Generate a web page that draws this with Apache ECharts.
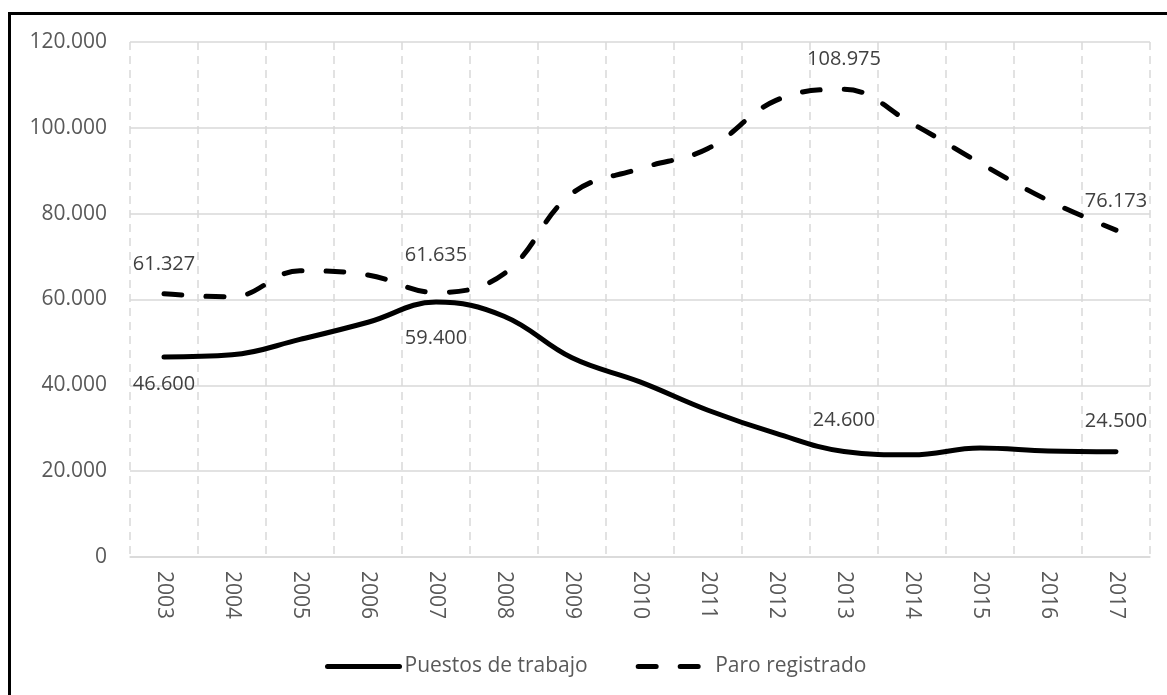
<!DOCTYPE html>
<html>
<head>
<meta charset="utf-8">
<script src="https://cdn.jsdelivr.net/npm/echarts@6/dist/echarts.min.js"></script>
<style>
html,body{margin:0;padding:0;background:#fff;overflow:hidden;}
#frame{position:absolute;left:8px;top:12px;width:2000px;height:2000px;border:3px solid #000;box-sizing:border-box;pointer-events:none;z-index:2;}
#chart{position:absolute;left:0;top:0;width:1167px;height:695px;z-index:1;}
</style>
</head>
<body>
<div id="frame"></div>
<div id="chart"></div>
<script>
const years = ['2003','2004','2005','2006','2007','2008','2009','2010','2011','2012','2013','2014','2015','2016','2017'];
const puestos = [46600, 47100, 50700, 54700, 59400, 56100, 46400, 40800, 34200, 28800, 24600, 23800, 25400, 24700, 24500];
const paro = [61327, 60600, 66700, 65700, 61635, 66000, 84700, 90500, 95200, 106400, 108975, 101000, 91800, 83100, 76173];
const yTicks = [0, 20000, 40000, 60000, 80000, 100000, 120000];

const FONT = '"Open Sans", "Noto Sans", sans-serif';
function fmt(v){ return String(v).replace(/\B(?=(\d{3})+(?!\d))/g, '.'); }

// label placement config (which points are labelled, and where)
const puestosLabels = {0:['bottom',16], 4:['bottom',25], 10:['top',20], 14:['top',20]};
const paroLabels = {0:['top',19], 4:['top',26], 10:['top',19], 14:['top',18]};

function build(values, cfg){
  return values.map((v,i)=>{
    const c = cfg[i];
    if(!c) return v;
    return {value:v, label:{show:true, position:c[0], distance:c[1], formatter:(p)=>fmt(p.value),
      color:'#404040', fontSize:20, fontFamily:FONT}};
  });
}

const chart = echarts.init(document.getElementById('chart'), null, {renderer:'canvas'});
chart.setOption({
  animation:false,
  backgroundColor:'#fff',
  grid:{left:130, right:17, top:42, bottom:138, containLabel:false},
  legend:{
    data:['Puestos de trabajo','Paro registrado'],
    left:320, top:651,
    itemWidth:72, itemHeight:14, itemGap:48,
    lineStyle:{width:5, cap:'round'},
    textStyle:{color:'#595959', fontSize:21, fontFamily:FONT}
  },
  xAxis:{
    type:'category', data:years, boundaryGap:true,
    axisLine:{show:true, lineStyle:{color:'#d9d9d9', width:1.5}},
    axisTick:{show:false},
    axisLabel:{rotate:-90, margin:14, color:'#595959', fontSize:21, fontFamily:FONT},
    splitLine:{show:true, lineStyle:{color:'#d9d9d9', width:1.5, type:[8,6]}}
  },
  yAxis:{
    type:'value', min:yTicks[0], max:yTicks[yTicks.length-1], interval:yTicks[1]-yTicks[0],
    axisLine:{show:false}, axisTick:{show:false},
    axisLabel:{margin:23, color:'#595959', fontSize:21, fontFamily:FONT, formatter:(v)=>fmt(v)},
    splitLine:{show:true, lineStyle:{color:'#d9d9d9', width:1.5}}
  },
  series:[
    {name:'Puestos de trabajo', type:'line', data:build(puestos, puestosLabels), smooth:0.4,
      symbol:'circle', symbolSize:2, itemStyle:{color:'rgba(0,0,0,0)'},
      color:'#000',
      lineStyle:{color:'#000', width:5, cap:'round', join:'round'}},
    {name:'Paro registrado', type:'line', data:build(paro, paroLabels), smooth:0.4,
      symbol:'circle', symbolSize:2, itemStyle:{color:'rgba(0,0,0,0)'},
      color:'#000',
      lineStyle:{color:'#000', width:5, type:[18,24], cap:'round', join:'round'}}
  ]
});
</script>
</body>
</html>
